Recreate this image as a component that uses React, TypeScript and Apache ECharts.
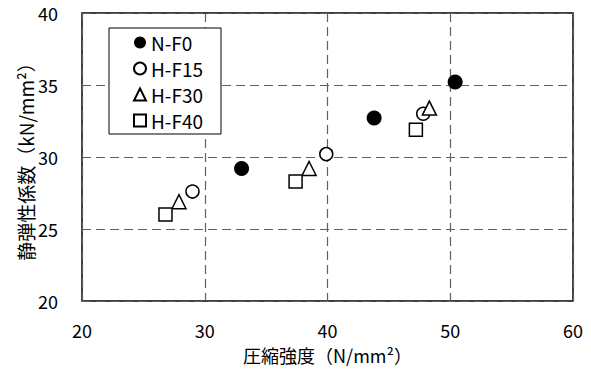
import React, { useEffect, useRef } from "react";
import * as echarts from "echarts";

const seriesNames = ["N-F0", "H-F15", "H-F30", "H-F40"];
const nF0: number[][] = [
  [33.0, 29.2],
  [43.8, 32.7],
  [50.4, 35.2],
];
const hF15: number[][] = [
  [29.0, 27.6],
  [39.9, 30.2],
  [47.8, 33.0],
];
const hF30: number[][] = [
  [27.9, 26.9],
  [38.5, 29.2],
  [48.3, 33.4],
];
const hF40: number[][] = [
  [26.8, 26.0],
  [37.4, 28.3],
  [47.2, 31.9],
];
const xTicks = { min: 20, max: 60, interval: 10 };
const yTicks = { min: 20, max: 40, interval: 5 };

const FONT = "'Noto Sans CJK JP', sans-serif";

export default function App() {
  const ref = useRef<HTMLDivElement>(null);
  useEffect(() => {
    document.body.style.margin = "0";
    if (!ref.current) return;
    const chart = echarts.init(ref.current, undefined, { renderer: "svg" });
    const grid = {
      show: true,
      left: 82,
      right: 18,
      top: 13,
      bottom: 66,
      borderColor: "#000",
      borderWidth: 1.5,
      backgroundColor: "transparent",
    };
    const splitLine = {
      show: true,
      lineStyle: { color: "#606060", width: 1.2, type: [9, 5] as any },
    };
    chart.setOption({
      animation: false,
      backgroundColor: "#fff",
      textStyle: { fontFamily: FONT },
      grid,
      legend: {
        orient: "vertical",
        left: 109,
        top: 28,
        padding: [5, 18, 4, 24],
        itemGap: 7,
        itemWidth: 12,
        itemHeight: 12,
        borderColor: "#000",
        borderWidth: 1,
        backgroundColor: "#fff",
        data: seriesNames,
        textStyle: { fontFamily: FONT, fontSize: 19, color: "#000", lineHeight: 17 },
      },
      xAxis: {
        type: "value",
        min: xTicks.min,
        max: xTicks.max,
        interval: xTicks.interval,
        axisLine: { show: false },
        axisTick: { show: false },
        axisLabel: { fontFamily: FONT, fontSize: 18, color: "#000", margin: 20 },
        splitLine,
        name: "圧縮強度（N/mm²）",
        nameLocation: "middle",
        nameGap: 45,
        nameMoveOverlap: false,
        nameTextStyle: { fontFamily: FONT, fontSize: 18, color: "#000" },
      },
      yAxis: {
        type: "value",
        min: yTicks.min,
        max: yTicks.max,
        interval: yTicks.interval,
        axisLine: { show: false },
        axisTick: { show: false },
        axisLabel: { fontFamily: FONT, fontSize: 18, color: "#000", margin: 24 },
        splitLine,
        name: "静弾性係数（kN/mm²）",
        nameLocation: "middle",
        nameGap: 47,
        nameMoveOverlap: false,
        nameTextStyle: { fontFamily: FONT, fontSize: 19, color: "#000" },
      },
      series: [
        {
          name: seriesNames[0],
          type: "scatter",
          symbol: "circle",
          symbolSize: 15,
          data: nF0,
          itemStyle: { color: "#000", borderColor: "#000", borderWidth: 0, opacity: 1 },
        },
        {
          name: seriesNames[1],
          type: "scatter",
          symbol: "circle",
          symbolSize: 13,
          data: hF15,
          itemStyle: { color: "#fff", borderColor: "#000", borderWidth: 1.5, opacity: 1 },
        },
        {
          name: seriesNames[2],
          type: "scatter",
          symbol: "triangle",
          symbolSize: 14,
          data: hF30,
          itemStyle: { color: "#fff", borderColor: "#000", borderWidth: 1.5, opacity: 1 },
        },
        {
          name: seriesNames[3],
          type: "scatter",
          symbol: "rect",
          symbolSize: 13,
          data: hF40,
          itemStyle: { color: "#fff", borderColor: "#000", borderWidth: 1.5, opacity: 1 },
        },
      ],
    });
    return () => chart.dispose();
  }, []);
  return <div ref={ref} style={{ width: 591, height: 369 }} />;
}
